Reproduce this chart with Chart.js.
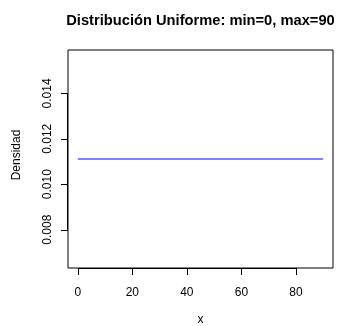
<!DOCTYPE html>
<html>
<head>
<meta charset="utf-8">
<script src="https://cdn.jsdelivr.net/npm/chart.js@4.4.0/dist/chart.umd.min.js"></script>
<style>
  html, body { margin: 0; padding: 0; background: #fff; }
  #wrap { width: 339px; height: 326px; }
</style>
</head>
<body>
<div id="wrap"><canvas id="unifChart" width="339" height="326"></canvas></div>
<script>
// Datos de la densidad uniforme
const xValues = [0, 90];
const densityValues = [0.01111, 0.01111];

// Marcas de los ejes
const xTicks = [0, 20, 40, 60, 80];
const yTicks = [0.008, 0.010, 0.012, 0.014];
const yTickLabels = ['0.008', '0.010', '0.012', '0.014'];

const chartTitle = 'Distribución Uniforme: min=0, max=90';
const xTitle = 'x';
const yTitle = 'Densidad';

const FONT = '"Liberation Sans", Arial, Helvetica, sans-serif';

// dibuja caja, ejes y textos al estilo de R base
const rAxesPlugin = {
    id: 'rAxes',
    afterDraw(chart) {
        const ctx = chart.ctx;
        const area = chart.chartArea;
        const xs = chart.scales.x;
        const ys = chart.scales.y;
        const L = Math.round(area.left), R = Math.round(area.right);
        const T = Math.round(area.top), B = Math.round(area.bottom);

        ctx.save();
        ctx.lineWidth = 1;

        // caja (gris, como en R)
        ctx.strokeStyle = '#000';
        ctx.beginPath();
        ctx.moveTo(L, T);
        ctx.lineTo(R, T);
        ctx.lineTo(R, B);
        ctx.lineTo(L, B);
        ctx.closePath();
        ctx.stroke();

        ctx.fillStyle = '#000';
        ctx.strokeStyle = '#000';

        // eje x
        ctx.beginPath();
        ctx.moveTo(xs.getPixelForValue(xTicks[0]), B + 0.5);
        ctx.lineTo(xs.getPixelForValue(xTicks[xTicks.length - 1]), B + 0.5);
        xTicks.forEach(t => {
            const px = Math.round(xs.getPixelForValue(t)) + 0.5;
            ctx.moveTo(px, B);
            ctx.lineTo(px, B + 7);
        });
        ctx.stroke();

        ctx.font = '12px ' + FONT;
        ctx.textAlign = 'center';
        ctx.textBaseline = 'alphabetic';
        xTicks.forEach(t => {
            ctx.fillText(String(t), xs.getPixelForValue(t), 296);
        });

        // eje y
        ctx.beginPath();
        ctx.moveTo(L - 0.5, ys.getPixelForValue(yTicks[0]));
        ctx.lineTo(L - 0.5, ys.getPixelForValue(yTicks[yTicks.length - 1]));
        yTicks.forEach(t => {
            const py = Math.round(ys.getPixelForValue(t)) + 0.5;
            ctx.moveTo(L, py);
            ctx.lineTo(L - 7, py);
        });
        ctx.stroke();

        yTicks.forEach((t, i) => {
            ctx.save();
            ctx.translate(51, ys.getPixelForValue(t));
            ctx.rotate(-Math.PI / 2);
            ctx.fillText(yTickLabels[i], 0, 0);
            ctx.restore();
        });

        // títulos de ejes
        ctx.fillText(xTitle, (area.left + area.right) / 2, 323);
        ctx.save();
        ctx.translate(20, 155);
        ctx.rotate(-Math.PI / 2);
        ctx.fillText(yTitle, 0, 0);
        ctx.restore();

        // título principal
        ctx.font = 'bold 14.7px ' + FONT;
        ctx.fillText(chartTitle, (area.left + area.right) / 2, 25);

        ctx.restore();
    }
};

const ctx = document.getElementById('unifChart').getContext('2d');
const unifChart = new Chart(ctx, {
    type: 'line',
    data: {
        datasets: [{
            data: xValues.map((x, i) => ({ x: x, y: densityValues[i] })),
            borderColor: 'blue',
            borderWidth: 1,
            pointRadius: 0,
            fill: false,
            tension: 0
        }]
    },
    options: {
        responsive: false,
        animation: false,
        layout: {
            padding: { left: 68, right: 6, top: 50, bottom: 58 }
        },
        plugins: {
            legend: { display: false },
            title: { display: false },
            tooltip: { enabled: false }
        },
        scales: {
            x: {
                type: 'linear',
                min: -3.6,
                max: 93.6,
                display: false
            },
            y: {
                type: 'linear',
                min: 0.00631,
                max: 0.01591,
                display: false
            }
        }
    },
    plugins: [rAxesPlugin]
});
</script>
</body>
</html>
